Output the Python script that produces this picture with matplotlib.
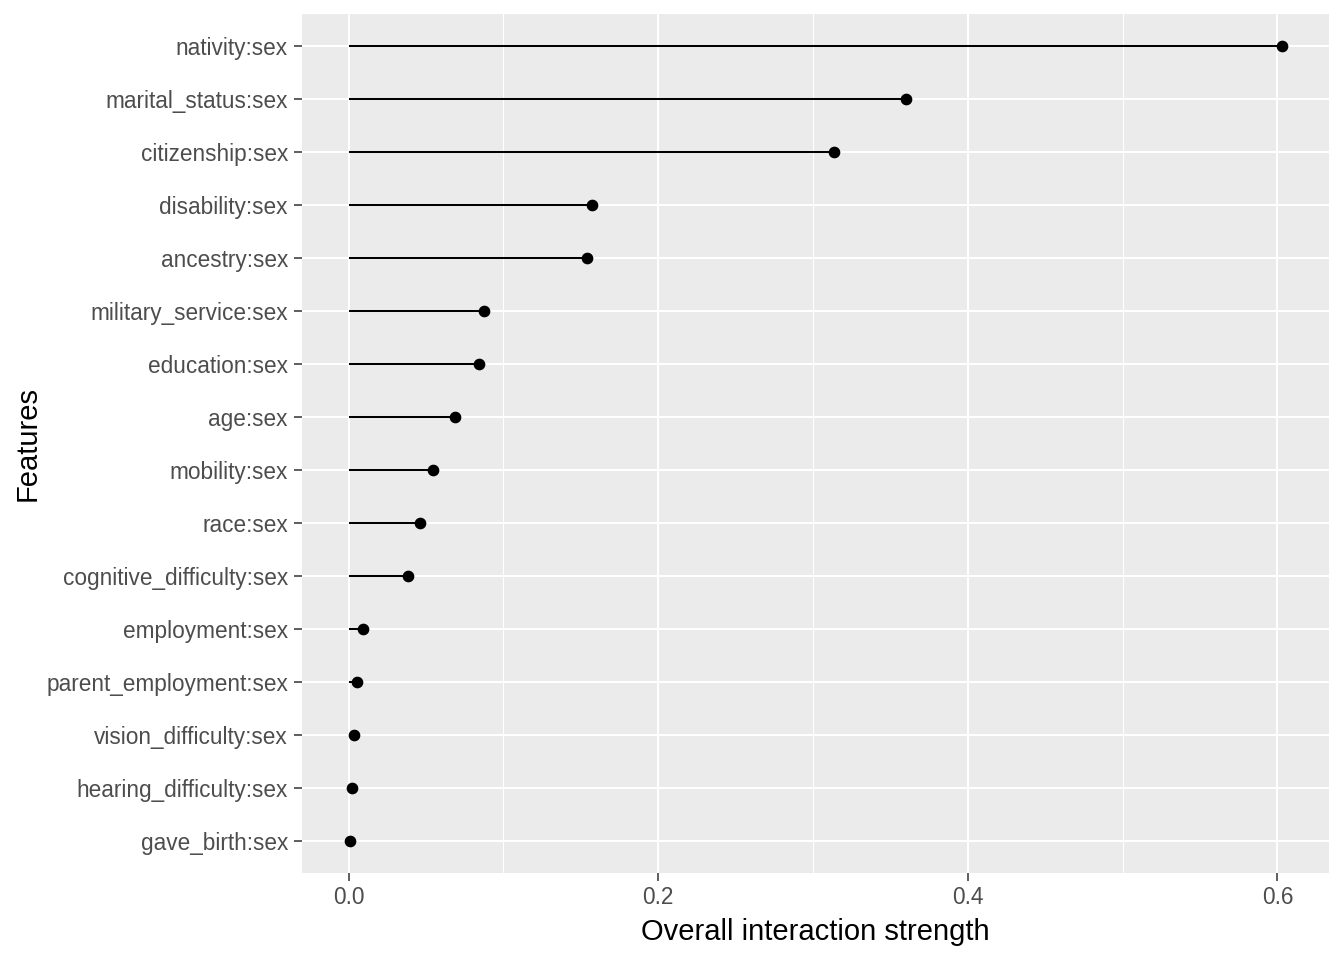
import matplotlib
matplotlib.use("Agg")
import matplotlib.pyplot as plt
import numpy as np

features = [
    "nativity:sex", "marital_status:sex", "citizenship:sex", "disability:sex",
    "ancestry:sex", "military_service:sex", "education:sex", "age:sex",
    "mobility:sex", "race:sex", "cognitive_difficulty:sex", "employment:sex",
    "parent_employment:sex", "vision_difficulty:sex", "hearing_difficulty:sex",
    "gave_birth:sex",
]
strength = [
    0.603, 0.360, 0.3135, 0.1574, 0.1542, 0.0877, 0.0845, 0.0690,
    0.0542, 0.0458, 0.0383, 0.0092, 0.0054, 0.0032, 0.0019, 0.0006,
]
x_ticks = [0.0, 0.2, 0.4, 0.6]
x_minor = [0.1, 0.3, 0.5]

plt.rcParams['font.family'] = ['Liberation Sans', 'DejaVu Sans']

fig = plt.figure(figsize=(13.44, 9.6), dpi=100)
ax = fig.add_axes([302 / 1344, (960 - 872.7) / 960, 1026.7 / 1344, 858.7 / 960])
ax.set_facecolor('#EBEBEB')

n = len(features)
ypos = np.arange(n, 0, -1)  # first feature at top

ax.hlines(ypos, 0, strength, color='black', linewidth=1.45, zorder=3)
ax.plot(strength, ypos, 'o', color='black', markersize=7.4, zorder=4)

xmax = max(strength)
ax.set_xlim(-0.05 * xmax, xmax * 1.05)
ax.set_ylim(0.4, n + 0.6)

ax.set_xticks(x_ticks)
ax.set_xticklabels([f"{v:.1f}" for v in x_ticks])
ax.set_xticks(x_minor, minor=True)
ax.set_yticks(ypos)
ax.set_yticklabels(features)

ax.grid(which='major', color='white', linewidth=1.5, zorder=0)
ax.grid(which='minor', axis='x', color='white', linewidth=0.75, zorder=0)
ax.set_axisbelow(True)
for s in ax.spines.values():
    s.set_visible(False)

ax.tick_params(axis='both', which='major', length=5.8, width=1.1, color='#333333',
               labelcolor='#4D4D4D', labelsize=16.3)
ax.tick_params(axis='y', pad=4.3)
ax.tick_params(axis='x', pad=3.5)
ax.tick_params(axis='x', which='minor', length=0)

ax.set_xlabel('Overall interaction strength', fontsize=21, color='black', labelpad=7)
ax.set_ylabel('Features', fontsize=21, color='black', labelpad=3)

fig.savefig('out.png', dpi=100)
